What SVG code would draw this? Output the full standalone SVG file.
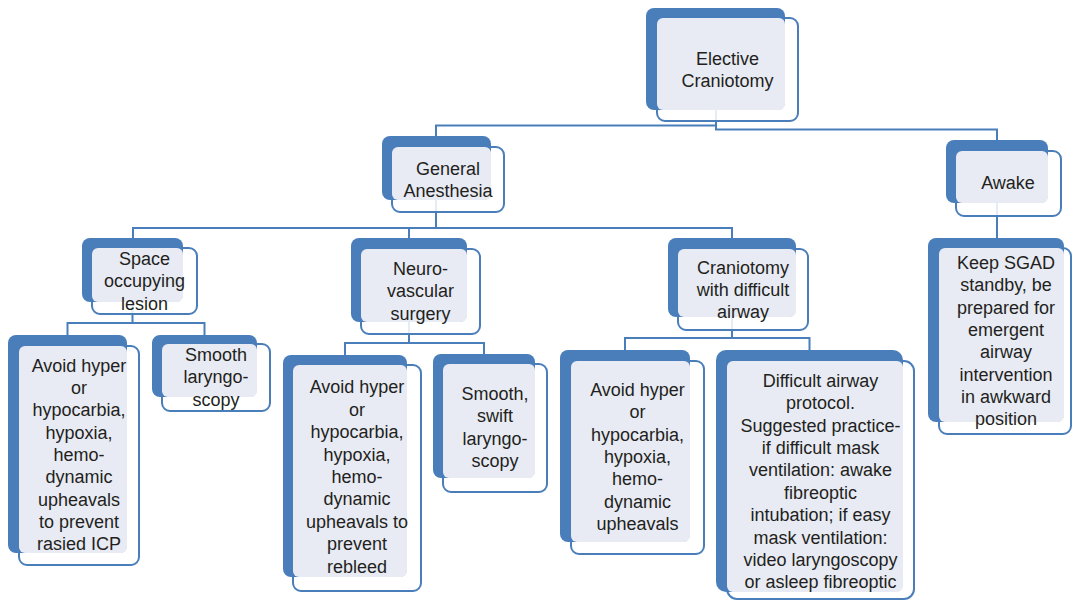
<svg xmlns="http://www.w3.org/2000/svg" width="1073" height="601" viewBox="0 0 1073 601">
<style>
.b{fill:#4a7ebb}
.f{fill:#fff;fill-opacity:.85;stroke:#4a7ebb;stroke-width:2}
.l{fill:#e8ebf4}
.c{fill:none;stroke:#4a7ebb;stroke-width:2}
text{font-family:"Liberation Sans",Arial,Helvetica,sans-serif;font-size:18px;fill:#231f20;text-anchor:middle}
</style>
<rect width="1073" height="601" fill="#fff"/>
<g id="connectors">
<path class="c" d="M716,110 V125.5 H436 V137"/>
<path class="c" d="M716,110 V129.5 H997 V141"/>
<path class="c" d="M436,200 V228 H133 V239"/>
<path class="c" d="M409,228 V239"/>
<path class="c" d="M436,228 H732 V239"/>
<path class="c" d="M997,203 V239"/>
<path class="c" d="M132.5,302 V323 H67.5 V336"/>
<path class="c" d="M132.5,323 H204.5 V336"/>
<path class="c" d="M409,322 V343 H345 V356"/>
<path class="c" d="M409,343 H484 V355"/>
<path class="c" d="M732,317 V338 H625 V351"/>
<path class="c" d="M732,338 H809.5 V351"/>
</g>
<g id="n-elective">
<rect class="f" x="657" y="18" width="141" height="103" rx="8"/>
<rect class="b" x="646" y="8" width="139" height="102" rx="8"/>
<rect class="l" x="657" y="18" width="128" height="92" rx="6"/>
<text x="727.5" y="65">Elective<tspan x="727.5" dy="22">Craniotomy</tspan></text>
</g>
<g id="n-general">
<rect class="f" x="392" y="147" width="112" height="65" rx="8"/>
<rect class="b" x="382" y="136" width="109" height="64" rx="8"/>
<rect class="l" x="392" y="147" width="99" height="53" rx="6"/>
<text x="448" y="174.5">General<tspan x="448" dy="22">Anesthesia</tspan></text>
</g>
<g id="n-awake">
<rect class="f" x="956" y="151" width="105" height="65" rx="8"/>
<rect class="b" x="946" y="140" width="102" height="63" rx="8"/>
<rect class="l" x="956" y="151" width="92" height="52" rx="6"/>
<text x="1008" y="188.5">Awake</text>
</g>
<g id="n-space">
<rect class="f" x="92" y="248" width="105" height="66" rx="8"/>
<rect class="b" x="82" y="238" width="101" height="64" rx="8"/>
<rect class="l" x="92" y="248" width="91" height="54" rx="6"/>
<text x="144.5" y="265">Space<tspan x="144.5" dy="22.4">occupying</tspan><tspan x="144.5" dy="22.4">lesion</tspan></text>
</g>
<g id="n-neuro">
<rect class="f" x="361" y="249" width="119" height="85" rx="8"/>
<rect class="b" x="351" y="238" width="116" height="84" rx="8"/>
<rect class="l" x="361" y="249" width="106" height="73" rx="6"/>
<text x="420.5" y="275">Neuro-<tspan x="420.5" dy="22.3">vascular</tspan><tspan x="420.5" dy="22.3">surgery</tspan></text>
</g>
<g id="n-cran-difficult">
<rect class="f" x="678" y="249" width="130" height="81" rx="8"/>
<rect class="b" x="668" y="238" width="128" height="79" rx="8"/>
<rect class="l" x="678" y="249" width="118" height="68" rx="6"/>
<text x="743" y="273.5">Craniotomy<tspan x="743" dy="22.3">with difficult</tspan><tspan x="743" dy="22.3">airway</tspan></text>
</g>
<g id="n-keep">
<rect class="f" x="939" y="248" width="132" height="186" rx="8"/>
<rect class="b" x="928" y="238" width="136" height="184" rx="8"/>
<rect class="l" x="939" y="248" width="125" height="174" rx="6"/>
<text x="1006" y="269">Keep SGAD<tspan x="1006" dy="22.3">standby, be</tspan><tspan x="1006" dy="22.3">prepared for</tspan><tspan x="1006" dy="22.3">emergent</tspan><tspan x="1006" dy="22.3">airway</tspan><tspan x="1006" dy="22.3">intervention</tspan><tspan x="1006" dy="22.3">in awkward</tspan><tspan x="1006" dy="22.3">position</tspan></text>
</g>
<g id="n-avoid1">
<rect class="f" x="19" y="346" width="120" height="219" rx="8"/>
<rect class="b" x="8" y="335" width="119" height="218" rx="8"/>
<rect class="l" x="19" y="346" width="108" height="207" rx="6"/>
<text x="79" y="371.7">Avoid hyper<tspan x="79" dy="22.3">or</tspan><tspan x="79" dy="22.3">hypocarbia,</tspan><tspan x="79" dy="22.3">hypoxia,</tspan><tspan x="79" dy="22.3">hemo-</tspan><tspan x="79" dy="22.3">dynamic</tspan><tspan x="79" dy="22.3">upheavals</tspan><tspan x="79" dy="22.3">to prevent</tspan><tspan x="79" dy="22.3">rasied ICP</tspan></text>
</g>
<g id="n-smooth1">
<rect class="f" x="162" y="344" width="108" height="67" rx="8"/>
<rect class="b" x="152" y="335" width="105" height="62" rx="8"/>
<rect class="l" x="162" y="344" width="95" height="53" rx="6"/>
<text x="216" y="361">Smooth<tspan x="216" dy="22.4">laryngo-</tspan><tspan x="216" dy="22.4">scopy</tspan></text>
</g>
<g id="n-avoid2">
<rect class="f" x="293" y="365" width="128" height="226" rx="8"/>
<rect class="b" x="283" y="355" width="124" height="222" rx="8"/>
<rect class="l" x="293" y="365" width="114" height="212" rx="6"/>
<text x="357" y="393.3">Avoid hyper<tspan x="357" dy="22.4">or</tspan><tspan x="357" dy="22.4">hypocarbia,</tspan><tspan x="357" dy="22.4">hypoxia,</tspan><tspan x="357" dy="22.4">hemo-</tspan><tspan x="357" dy="22.4">dynamic</tspan><tspan x="357" dy="22.4">upheavals to</tspan><tspan x="357" dy="22.4">prevent</tspan><tspan x="357" dy="22.4">rebleed</tspan></text>
</g>
<g id="n-smooth2">
<rect class="f" x="443" y="364" width="104" height="128" rx="8"/>
<rect class="b" x="433" y="354" width="102" height="124" rx="8"/>
<rect class="l" x="443" y="364" width="92" height="114" rx="6"/>
<text x="495" y="400">Smooth,<tspan x="495" dy="22.4">swift</tspan><tspan x="495" dy="22.4">laryngo-</tspan><tspan x="495" dy="22.4">scopy</tspan></text>
</g>
<g id="n-avoid3">
<rect class="f" x="571" y="361" width="133" height="193" rx="8"/>
<rect class="b" x="560" y="350" width="130" height="192" rx="8"/>
<rect class="l" x="571" y="361" width="119" height="181" rx="6"/>
<text x="637.5" y="396">Avoid hyper<tspan x="637.5" dy="22.3">or</tspan><tspan x="637.5" dy="22.3">hypocarbia,</tspan><tspan x="637.5" dy="22.3">hypoxia,</tspan><tspan x="637.5" dy="22.3">hemo-</tspan><tspan x="637.5" dy="22.3">dynamic</tspan><tspan x="637.5" dy="22.3">upheavals</tspan></text>
</g>
<g id="n-difficult">
<rect class="f" x="727" y="361" width="187" height="238" rx="10"/>
<rect class="b" x="716" y="350" width="187" height="242" rx="10"/>
<rect class="l" x="727" y="361" width="176" height="231" rx="6"/>
<text x="820.5" y="386.7">Difficult airway<tspan x="820.5" dy="22.4">protocol.</tspan><tspan x="820.5" dy="22.4">Suggested practice-</tspan><tspan x="820.5" dy="22.4">if difficult mask</tspan><tspan x="820.5" dy="22.4">ventilation: awake</tspan><tspan x="820.5" dy="22.4">fibreoptic</tspan><tspan x="820.5" dy="22.4">intubation; if easy</tspan><tspan x="820.5" dy="22.4">mask ventilation:</tspan><tspan x="820.5" dy="22.4">video laryngoscopy</tspan><tspan x="820.5" dy="22.4">or asleep fibreoptic</tspan></text>
</g>
</svg>
